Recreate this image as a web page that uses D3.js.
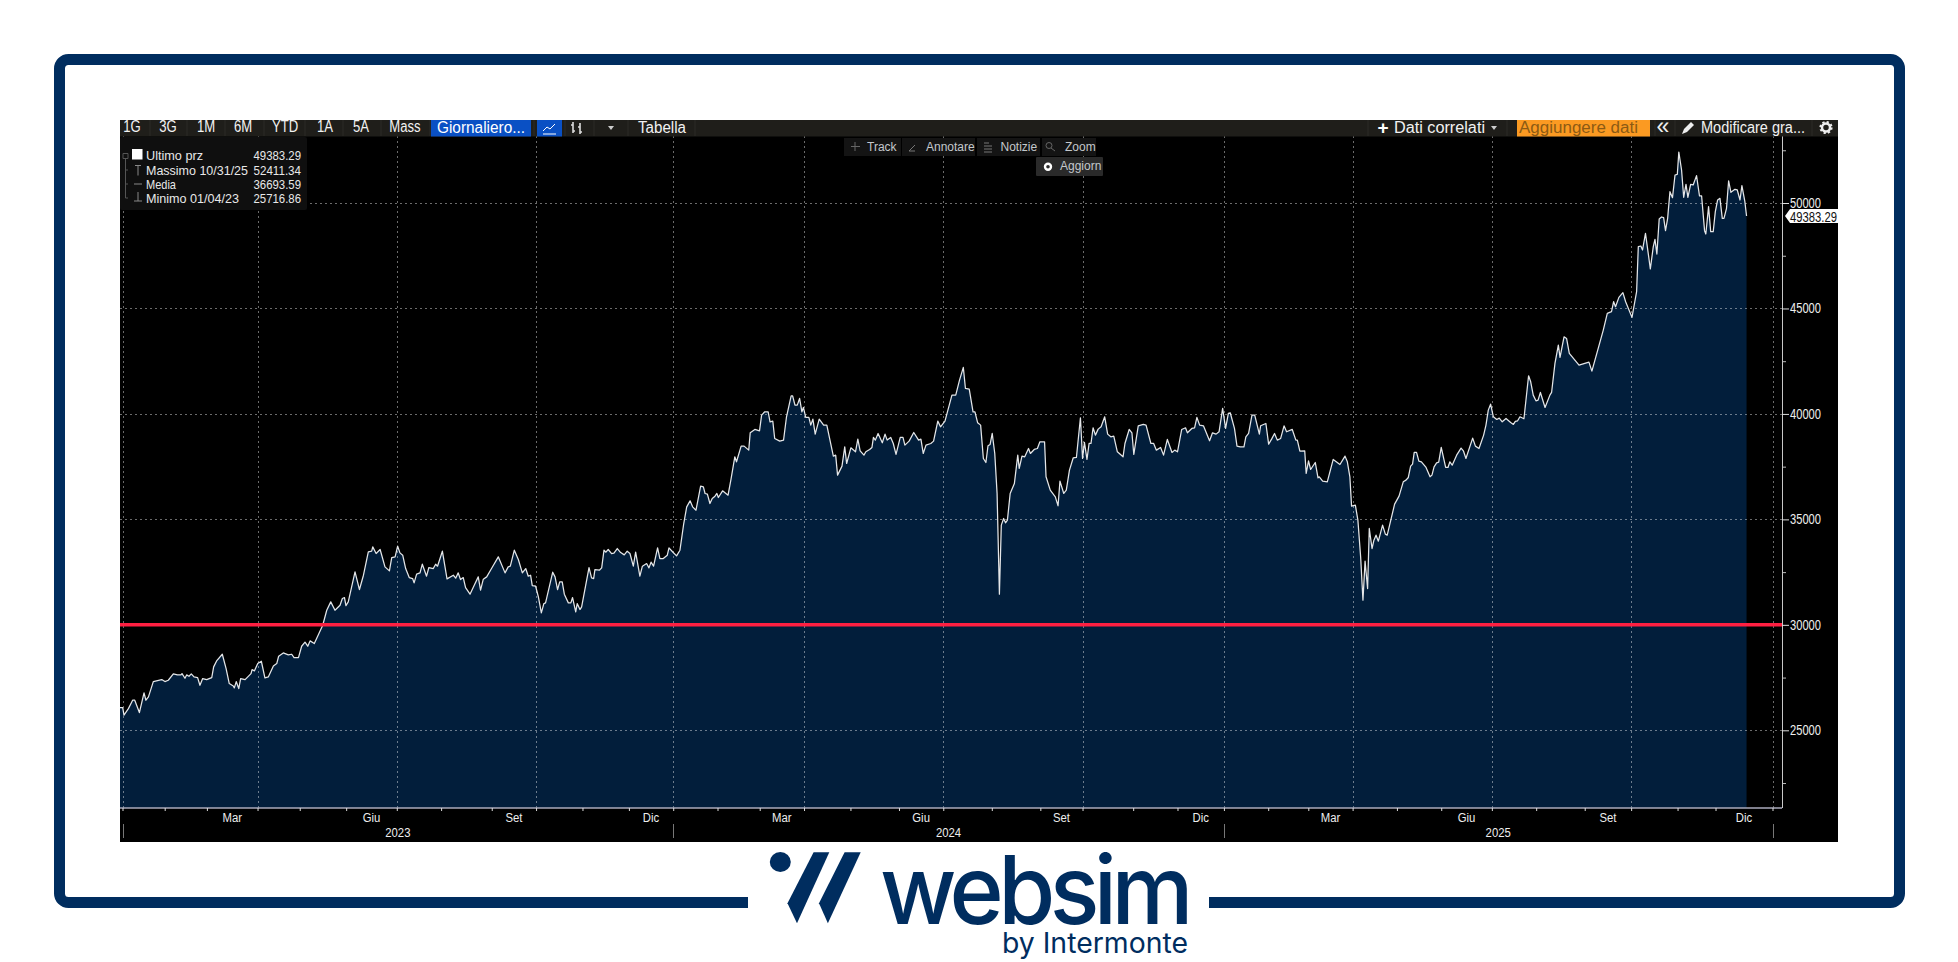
<!DOCTYPE html>
<html><head><meta charset="utf-8">
<script src="https://cdn.jsdelivr.net/npm/d3@7"></script>
<style>html,body{margin:0;padding:0;background:#fff;overflow:hidden}svg{display:block}
text{font-family:"Liberation Sans",sans-serif}</style></head>
<body><svg id="c" width="1958" height="962"></svg>
<script>
// Trading-session index (sessions since 2 Jan 2023) of each traced vertex of the price line
const sessions=[-1.2,.1,.7,2.8,4.8,5.8,8,10.2,11.1,12.3,14.6,18.6,20.1,21.7,24.1,26,27.7,28.2,29.6,30.4,31.5,32.6,33.9,35.6,36.7,38,39.9,42.3,43.2,44.6,47.3,49.1,50.6,52.5,53,53.9,55.1,56,58.1,60.9,61.4,62.5,64.1,65.8,67.5,69.1,71.5,73.1,74,76.2,78.6,80.2,81.3,83.4,84.9,86.5,87.8,88.9,90.9,92,94.9,96.8,98.7,100.7,103.1,104.2,105.2,105.9,107,110.2,112.3,114.2,116.5,118.1,118.6,120.2,122.1,124.4,126.5,127.6,129.2,130.4,131.5,132.8,134.2,135.9,137.5,138.2,139.4,141,
142.1,144.1,145.2,147.3,148.4,149.3,151.6,153.8,156.8,157.9,159.1,160.2,161.5,162.6,164.7,166.7,168.6,169.7,171,172.6,174.9,178.1,181.3,182.8,183.8,185.7,187.6,189.5,191.1,192.3,193.4,194.2,195.8,197.1,198.5,199.7,200.5,203.9,205,206.2,207.2,208.4,209.4,211.3,212.5,213.3,214.8,215.5,216.8,217.6,221.1,222.3,223.3,223.9,226,227.1,228.2,229.1,230.2,231.8,232.9,234.5,236.1,237.8,239.2,240.5,242.1,243.2,245.2,246.4,248.4,249.5,250.5,251.7,253.6,254.7,256.3,258.2,259,261,262.6,264.2,266,267.4,269,270.2,271.8,274,275.3,276.1,277.2,278.4,279.5,280.8,
281.7,282.4,284.4,287,288.4,290.2,291,293.2,294.6,296.8,297.5,299.7,301.9,302.9,304.4,306,306.9,308.2,309.1,311.5,313.3,314.7,316.9,317.6,318.7,319.8,320.9,322,322.7,323.8,325.3,326.2,327.2,328.3,330.2,332.3,333.8,336.9,338,338.9,341,342.3,343.2,345.2,347.4,348.5,349.6,351.4,352.3,354.1,355.2,355.9,356.8,358.1,360.1,361.4,362.4,364.1,365.3,366.6,368.6,369.9,370.8,372.8,375,377.3,378.4,379.5,380.8,383.1,384.4,386.4,387.7,389.8,393.1,394.9,396.7,398.5,399.5,401.3,403.1,404,405.3,406.7,408,409.2,410.2,411.2,412.2,413.4,414.5,415.6,416.5,417.6,418.5,419.4,420.7,422.7,424.3,425,426.3,427.6,429.4,430.3,432.1,433.6,434.8,437,437.7,439.7,442.1,443.4,444.3,446.1,447.3,448.8,450.6,452.1,454,455,455.9,457.1,458.1,459,460,461.1,462.4,463.8,465.5,466.9,468.4,469.8,471.5,474.2,475.1,477.1,478.4,479.3,481.4,483.8,485.1,487.4,488.7,490,492,493.4,495.2,497.4,498.7,500,502,503.8,504.7,506.8,508.1,509.2,510.5,512.3,515.2,516.6,518.3,519.7,521.4,522.8,524.1,525,527,528.2,529.7,
531.5,532.4,533.7,535.3,536.6,538.8,539.4,541.9,543.2,544.6,546,547.3,548.9,550.5,551.7,554.4,556.1,556.8,558,560.3,561,562.1,563.1,565.3,566.6,567.2,568.8,571,573.8,577,579.4,580.5,581.7,582.5,584.3,585.5,586.8,587.9,588.9,590.1,590.9,592.2,593.1,594.1,595.2,597.2,598.5,599.4,602.9,605,607,608.3,609.4,610.5,611.4,612.2,613.3,614.4,615.6,617.8,619.7,620.6,621.6,622.8,623.8,625,627.1,628.2,629.1,630.2,632.3,634.4,635.5,636.7,639.9,641.2,642.9,645.1,646.2,647.3,648.4,649.7,651.3,652.5,653.9,655.7,657.9,659.2,660.1,661.2,662.3,664.2,666.4,667.4,668.6,669.9,670.9,672,674.2,676.5,677.3,678.9,680.5,681.3,683.2,684.4,685.7,690.3,695,696.4,
701.8,703.7,705.7,706.7,707.6,709.2,711.1,712.4,715.4,717.6,718.4,719.6,720.4,721.8,723.1,724.1,725.5,726.3,727.2,728.3,729.4,730.4,731.3,732.3,733.4,734.6,735.8,736.9,737.6,738.9,739.9,741,741.9,743.2,744.4,746,747.4,748.4,749.8,750.4,751.7,752.7,753.9,754.9,756,757.1,758.2,759,760.2,761.2,762.3,764.2,765.3,766.6,767.5,768.9,769.7];
// Index level at each of those sessions
const closes=[26077,26077,25717,26029,26425,26425,25840,26772,26425,26583,27310,27405,27310,27373,27674,27626,27626,27689,27468,27626,27563,27674,27531,27500,27136,27452,27405,27500,28006,28290,28606,27927,27215,27104,27010,27310,26978,27452,27405,27689,27879,27816,28164,28274,27484,27531,28053,28164,28512,28670,28575,28606,28448,28448,28986,29176,28986,29239,29112,29349,29982,30693,31089,30693,30930,31247,31294,30915,31089,32511,31674,32353,33460,33492,33697,33381,33571,32749,32559,33191,33223,33729,33413,33302,32670,32243,32195,31990,32401,32464,
32875,32306,32717,32669,32875,32780,33491,32179,32353,32211,32464,32148,32242,31768,31452,31879,32274,31642,32163,32274,32669,33223,32464,32748,32780,33539,33096,32464,32669,32306,32353,31863,31831,31325,30567,31009,31041,32495,32274,31673,32037,32037,31452,31041,31041,31294,30614,31009,30725,30851,32717,32227,32195,32622,32590,32701,33539,33444,33571,33381,33397,33618,33428,33318,33491,33381,32780,33444,32306,32780,32906,32701,32970,32780,33650,33144,33144,33302,33650,33428,33270,33539,34804,35594,35879,35594,35436,36574,36543,36227,36195,35752,35989,36100,
36228,36038,36354,36149,36908,37967,37730,38473,38473,38283,39105,39264,39200,39943,40101,40101,39627,39659,38837,38710,38758,39864,40860,40860,40418,40418,40734,40101,40307,39833,39833,39469,39754,39042,39754,39469,39469,37999,38046,37098,37524,38441,37651,38394,38204,38805,38252,38046,38204,38315,38410,38884,38758,39074,38631,39042,38758,38884,38599,38078,38884,38884,38520,38710,39121,38758,38805,38125,38520,38599,38710,39659,39390,39659,40892,40892,41603,42204,41208,41177,40101,40101,39580,39469,37888,37698,38489,38552,39074,38125,36228,31453,34726,35042,34837,34963,36228,36702,38046,37414,37999,37967,38362,38125,38315,38362,38679,38679,37019,36386,36070,35643,36813,36228,36386,37335,37920,37936,39817,37888,38647,37841,38599,38599,39343,38995,39279,39390,39864,39042,38916,38947,38204,37967,38599,39264,39105,38078,39437,39501,39469,38599,38599,38283,38410,38046,38789,38173,38283,38204,39264,39343,39105,39311,39343,39833,39469,39437,38726,39105,39042,39153,40260,39311,40022,40054,39311,38473,38441,
38441,38916,39074,39943,39943,39042,39437,39548,38568,38805,39074,38758,38837,39437,39153,39264,38758,38758,38236,38252,37177,37777,37366,37698,36971,37019,36813,36781,37841,37603,37999,37730,37019,35627,35675,34963,33224,31169,33019,31722,34568,33619,34015,34252,33967,34726,34299,34252,35722,36102,36781,36860,36987,37524,37619,38173,38173,37762,37730,37461,37019,37098,37493,37683,37714,38410,37461,37461,37730,37572,38046,38378,38252,37888,38852,38473,38362,38995,39469,40180,40465,39864,39738,39801,39627,39785,39595,39501,39643,39675,39864,39769,41809,41524,40892,40623,40655,41018,40307,40892,41018,42400,43264,42680,43657,43580,42870,42315,42457,42030,
43977,44768,44847,45321,45084,45527,45748,45321,44578,45795,47930,47961,47772,48562,47614,46871,47930,48278,47582,49242,49337,49305,48689,49274,50538,50254,51329,51361,52411,51566,50270,50886,50270,50886,50855,51297,50333,50333,48689,48531,49827,48641,48641,49590,50143,50222,49274,49274,49748,51044,50507,50649,50618,50143,50823,50064,49383.29];

const yTicksMajor=[25000,30000,35000,40000,45000,50000];
const yTicksMinor=[22500,27500,32500,37500,42500,47500,52500];
const referenceLevel=30000;
const monthStarts=[0,20,40,64,84,106,130,151,175,196,218,240,261,282,302,323,345,368,389,412,435,455,479,500,522,543,562,583,604,625,649,670,693,715,737,755,782];
const monthNames=["Gen","Feb","Mar","Apr","Mag","Giu","Lug","Ago","Set","Ott","Nov","Dic"];
const labelledMonths=["Mar","Giu","Set","Dic"];
const years=["2023","2024","2025"];
const periodButtons=["1G","3G","1M","6M","YTD","1A","5A","Mass"];
const legendNames=["Ultimo prz","Massimo 10/31/25","Media","Minimo 01/04/23"];
const legendValues=["49383.29","52411.34","36693.59","25716.86"];
const lastPrice=49383.29;

const NAVY="#002d5f";
const svg=d3.select("#c");
const x=d3.scaleLinear().domain([0,782]).range([122.5,1772.5]);
const y=d3.scaleLinear().domain([21316,53177]).range([808,136]);
// Text helper: the terminal's narrow face is emulated by a horizontal squeeze or an exact length
const T=(g,s,px,py,o={})=>{
  const t=g.append("text").text(s).attr("fill",o.fill||"#fff").attr("font-size",o.size||13)
    .attr("text-anchor",o.anchor||"start").attr("dominant-baseline","central").attr("font-weight",o.weight||400);
  if(o.len) t.attr("x",px).attr("y",py).attr("textLength",o.len).attr("lengthAdjust","spacingAndGlyphs");
  else t.attr("transform",`translate(${px},${py}) scale(${o.sx||.84},1)`);
  return t;
};

// Frame
svg.append("rect").attr("x",59.5).attr("y",59.5).attr("width",1840).attr("height",843)
  .attr("rx",9).attr("fill","#fff").attr("stroke",NAVY).attr("stroke-width",11);
svg.append("rect").attr("x",748).attr("y",885).attr("width",461).attr("height",30).attr("fill","#fff");

// Chart panel
svg.append("rect").attr("x",120).attr("y",120).attr("width",1718).attr("height",722).attr("fill","#000");

// Area and price line
const pts=sessions.map((s,i)=>[s,closes[i]]);
svg.append("clipPath").attr("id","pc").append("rect").attr("x",120).attr("y",130).attr("width",1662).attr("height",678);
const plot=svg.append("g").attr("clip-path","url(#pc)");
plot.append("path").datum(pts).attr("fill","#021e3b")
  .attr("d",d3.area().x(d=>x(d[0])).y0(y.range()[0]).y1(d=>y(d[1])));

// Grid
const quarterBounds=monthStarts.filter((_,i)=>i%3===0);
const gridStyle=s=>s.attr("stroke","#fff").attr("stroke-opacity",.42).attr("stroke-width",1).attr("stroke-dasharray","2,3");
svg.append("g").selectAll("line").data(yTicksMajor).join("line")
  .attr("x1",120).attr("x2",1782).attr("y1",d=>Math.round(y(d))+.5).attr("y2",d=>Math.round(y(d))+.5).call(gridStyle);
svg.append("g").selectAll("line").data(quarterBounds).join("line")
  .attr("x1",d=>Math.round(x(d))+.5).attr("x2",d=>Math.round(x(d))+.5).attr("y1",136).attr("y2",808).call(gridStyle);

plot.append("path").datum(pts).attr("fill","none").attr("stroke","#e4e6e8").attr("stroke-width",1.25)
  .attr("stroke-linejoin","round").attr("d",d3.line().x(d=>x(d[0])).y(d=>y(d[1])));

// Reference level
svg.append("line").attr("x1",120).attr("x2",1782).attr("y1",y(referenceLevel)).attr("y2",y(referenceLevel))
  .attr("stroke","#ff1f41").attr("stroke-width",3.5);

// Y axis
const yAxisG=svg.append("g").attr("transform","translate(1782,0)");
yAxisG.append("g").call(d3.axisRight(y).tickValues(yTicksMinor).tickSize(4).tickFormat(""))
  .call(g=>g.select(".domain").remove()).selectAll("line").attr("stroke","#bbb");
yAxisG.append("g").call(d3.axisRight(y).tickValues(yTicksMajor).tickSize(7).tickPadding(1).tickFormat(d3.format("d")))
  .call(g=>g.select(".domain").attr("stroke","#c8c8c8").attr("d","M0.5,136V808"))
  .call(g=>g.selectAll("line").attr("stroke","#ddd"))
  .call(g=>g.selectAll("text").attr("fill","#eee").attr("font-size",14).attr("textLength",31).attr("lengthAdjust","spacingAndGlyphs").style("font-family",'"Liberation Sans",sans-serif'));

// Last price flag
svg.append("path").attr("d",d3.line()([[1785,y(lastPrice)],[1790,y(lastPrice)-7],[1838,y(lastPrice)-7],[1838,y(lastPrice)+7],[1790,y(lastPrice)+7]])+"Z").attr("fill","#fff");
T(svg,d3.format(".2f")(lastPrice),1790,y(lastPrice)+.5,{fill:"#111",size:14,len:47});

// X axis
svg.append("line").attr("x1",120).attr("x2",1782).attr("y1",808).attr("y2",808).attr("stroke","#aab").attr("stroke-width",1.5);
svg.append("g").attr("transform","translate(0,808)")
  .call(d3.axisBottom(x).tickValues(monthStarts).tickSize(3).tickFormat(""))
  .call(g=>g.select(".domain").remove()).selectAll("line").attr("stroke","#ddd");
monthStarts.slice(0,-1).forEach((m,i)=>{
  const name=monthNames[i%12];
  if(labelledMonths.includes(name)) T(svg,name,x((m+monthStarts[i+1])/2),817.5,{anchor:"middle",size:13.5,fill:"#eee"});
});
years.forEach((yr,i)=>T(svg,yr,x((monthStarts[i*12]+monthStarts[(i+1)*12])/2),833,{anchor:"middle",size:13.5,fill:"#eee"}));
svg.append("g").selectAll("line").data(monthStarts.filter((_,i)=>i%12===0)).join("line")
  .attr("x1",d=>Math.round(x(d))+.5).attr("x2",d=>Math.round(x(d))+.5).attr("y1",824).attr("y2",838).attr("stroke","#777");

// Top toolbar
const bar=svg.append("g");
bar.append("rect").attr("x",120).attr("y",120).attr("width",1718).attr("height",16.5).attr("fill","#1f1e1a");
const periodX=[132,168,206,243,285,325,361,405];
const TY=127;
periodButtons.forEach((b,i)=>T(bar,b,periodX[i],TY,{anchor:"middle",size:16,fill:"#f2f2f2",sx:.82}));
[150,187,225,264,305,343,381,430,534,565,594,628,695,1368,1507,1655,1675,1812].forEach(v=>
  bar.append("line").attr("x1",v).attr("x2",v).attr("y1",120).attr("y2",136).attr("stroke","#2c2b27"));
bar.append("rect").attr("x",431).attr("y",120).attr("width",100).attr("height",16.5).attr("fill","#0a50c4");
T(bar,"Giornaliero...",437,TY,{size:16,fill:"#fff",len:88});
bar.append("rect").attr("x",537).attr("y",120).attr("width",25).attr("height",16.5).attr("fill","#0a50c4");
bar.append("path").attr("d","M543,131l4,-4l3,2l5,-5M543,134h13").attr("fill","none").attr("stroke","#fff");
bar.append("path").attr("d","M573,122v11M573,125h-2M573,131h2M580,123v11M580,127h-2M580,132h2").attr("stroke","#ddd").attr("fill","none").attr("stroke-width",1.6);
bar.append("path").attr("d","M608,126h6l-3,4z").attr("fill","#ccc");
T(bar,"Tabella",638,TY,{size:16,fill:"#f2f2f2",len:48});
T(bar,"+",1383,TY,{anchor:"middle",size:19,weight:700,sx:1});
T(bar,"Dati correlati",1394,TY,{size:16,fill:"#f2f2f2",len:91});
bar.append("path").attr("d","M1491,126h6l-3,4z").attr("fill","#ccc");
bar.append("rect").attr("x",1517).attr("y",120).attr("width",133).attr("height",16.5).attr("fill","#fb9a22");
T(bar,"Aggiungere dati",1519,TY,{size:16,fill:"#8c5a14",len:119});
T(bar,"«",1663,125.5,{anchor:"middle",size:23,fill:"#eee",sx:1});
bar.append("path").attr("d","M1682,134l2,-5l7,-7l3,3l-7,7z").attr("fill","#eee");
T(bar,"Modificare gra...",1701,TY,{size:16,fill:"#f2f2f2",len:104});
bar.append("circle").attr("cx",1826).attr("cy",127.5).attr("r",4).attr("fill","none").attr("stroke","#eee").attr("stroke-width",2.5);
bar.append("circle").attr("cx",1826).attr("cy",127.5).attr("r",5.6).attr("fill","none").attr("stroke","#eee").attr("stroke-width",2).attr("stroke-dasharray","2.2,2.2");

// Legend
const leg=svg.append("g");
leg.append("rect").attr("x",120).attr("y",137).attr("width",187).attr("height",73).attr("rx",2).attr("fill","#0f0f0f");
const legendY=[155,170,184,198];
const nameWidths=[57,102,30,93];
legendNames.forEach((n,i)=>{
  T(leg,n,146,legendY[i],{size:13.5,fill:"#e8e8e8",len:nameWidths[i]});
  T(leg,legendValues[i],253.5,legendY[i],{size:13.5,fill:"#e8e8e8",len:47.5});
});
leg.append("rect").attr("x",132).attr("y",149).attr("width",10.5).attr("height",10.5).attr("fill","#fff");
leg.append("path").attr("d","M125.5,158V198H128M125.5,170H128M125.5,184H128M123,153.5h5v5h-5z").attr("fill","none").attr("stroke","#555");
leg.append("path").attr("d","M135,165.5h6M138,165.5v10M134,184h8M138,192v9M134,201h8").attr("fill","none").attr("stroke","#888");

// Chart tools
const tools=svg.append("g");
[["Track",844,57,867],["Annotare",902,73,926],["Notizie",977,63,1000.5],["Zoom",1042,54,1065]].forEach(([s,bx,w,tx])=>{
  tools.append("rect").attr("x",bx).attr("y",138).attr("width",w).attr("height",18).attr("fill","#141414");
  T(tools,s,tx,146.5,{size:12,fill:"#c4c8cc",sx:1});
});
tools.append("path").attr("d","M855,142v9M851,146.5h9").attr("stroke","#666");
tools.append("path").attr("d","M909,151l6,-6M909,151h6").attr("stroke","#777").attr("fill","none");
tools.append("path").attr("d","M984,143h5M984,146h8M984,149h8M984,152h8").attr("stroke","#777");
tools.append("circle").attr("cx",1049).attr("cy",145.5).attr("r",3).attr("fill","none").attr("stroke","#666");
tools.append("path").attr("d","M1051,148l4,3").attr("stroke","#666");
tools.append("rect").attr("x",1036).attr("y",157).attr("width",67).attr("height",19).attr("rx",1).attr("fill","#2a2a2a");
tools.append("circle").attr("cx",1048).attr("cy",166.7).attr("r",3).attr("fill","#2a2a2a").attr("stroke","#fff").attr("stroke-width",2.4);
T(tools,"Aggiorn",1060,166,{size:12,fill:"#c4c8cc",sx:1});

// Logo
const logo=svg.append("g").attr("fill",NAVY);
logo.append("ellipse").attr("cx",780.3).attr("cy",862).attr("rx",10.5).attr("ry",10);
logo.append("path").attr("d","M813.6,852.3H829.3L797,923.3L787.5,903.3Z");
logo.append("path").attr("d","M844.6,852.3H860.7L827.9,923.3L819,903.3Z");
logo.append("text").attr("x",880).attr("y",924).text("websim").attr("font-size",95).attr("font-weight",500)
  .style("font-family","Inter,'Liberation Sans',sans-serif").style("letter-spacing","-0.06em").attr("textLength",308).attr("lengthAdjust","spacingAndGlyphs");
logo.append("text").attr("x",1002).attr("y",953).text("by Intermonte").attr("font-size",28)
  .style("font-family","Inter,'Liberation Sans',sans-serif").attr("textLength",186).attr("lengthAdjust","spacingAndGlyphs");
</script></body></html>
